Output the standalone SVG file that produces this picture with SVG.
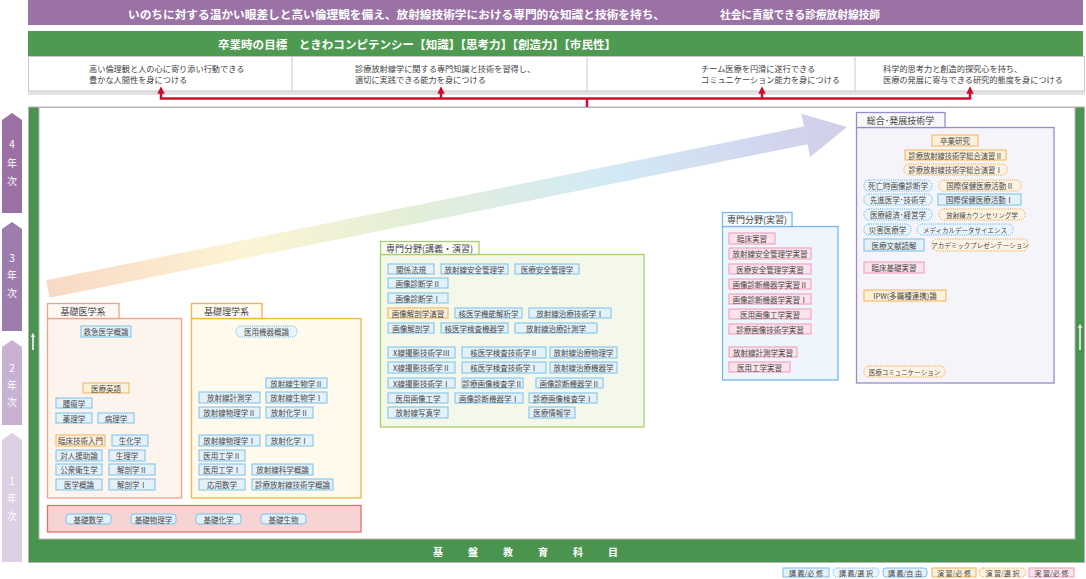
<svg xmlns="http://www.w3.org/2000/svg" width="1086" height="579" viewBox="0 0 1086 579">
<defs>
<style>
text{font-family:"Noto Sans CJK JP","Noto Sans CJK SC",sans-serif;}
.t{font-size:7.5px;fill:#4a4a4a;text-anchor:middle;dominant-baseline:central;}
.k{font-size:6.5px;fill:#4a4a4a;text-anchor:middle;dominant-baseline:central;}
.tab{font-size:9px;fill:#444;text-anchor:middle;dominant-baseline:central;}
.cell{font-size:8.2px;fill:#444;}
.yr{font-size:10px;fill:#fff;text-anchor:middle;dominant-baseline:central;}
.lr{fill:#e3f1fb;stroke:#8ccaec;stroke-width:1.2;}
.ls{fill:#eaf4fb;stroke:#4fb0e0;stroke-width:1;stroke-dasharray:1 1.2;}
.lf{fill:#e3f1fb;stroke:#7cc0e8;stroke-width:1;}
.er{fill:#fdf0da;stroke:#f4bd6c;stroke-width:1.2;}
.es{fill:#fdf3e2;stroke:#f0a02c;stroke-width:1;stroke-dasharray:1 1.2;}
.pr{fill:#fce2ea;stroke:#f0a8c0;stroke-width:1.2;}
.red{stroke:#c8102e;stroke-width:2.5;fill:none;}
.lg{font-size:7px;fill:#4a4a4a;text-anchor:middle;dominant-baseline:central;}
</style>
<linearGradient id="grad" gradientUnits="userSpaceOnUse" x1="48" y1="0" x2="847" y2="0">
<stop offset="0" stop-color="#f8d9c5"/>
<stop offset="0.25" stop-color="#fdf4d5"/>
<stop offset="0.45" stop-color="#e3efd7"/>
<stop offset="0.7" stop-color="#d3eaf6"/>
<stop offset="1" stop-color="#d1cde9"/>
</linearGradient>
<marker id="ah" viewBox="0 0 10 10" refX="5" refY="5" markerWidth="3" markerHeight="3" orient="auto">
<path d="M0,0 L10,5 L0,10 z" fill="#c8102e"/>
</marker>
<marker id="wh" viewBox="0 0 10 10" refX="5" refY="5" markerWidth="3" markerHeight="3" orient="auto">
<path d="M0,0 L10,5 L0,10 z" fill="#fff"/>
</marker>
</defs>

<rect width="1086" height="579" fill="#fff"/>

<!-- header -->
<g id="mission">
<rect x="28" y="0" width="1055" height="25" fill="#9b72a6"/>
<text x="128" y="13.5" font-size="11.5" font-weight="bold" fill="#fff" dominant-baseline="central" textLength="537" lengthAdjust="spacingAndGlyphs">いのちに対する温かい眼差しと高い倫理観を備え、放射線技術学における専門的な知識と技術を持ち、</text>
<text x="720" y="13.5" font-size="11.5" font-weight="bold" fill="#fff" dominant-baseline="central" textLength="160" lengthAdjust="spacingAndGlyphs">社会に貢献できる診療放射線技師</text>
</g>
<g id="competency">
<rect x="28" y="31" width="1055" height="25" fill="#4f9a51"/>
<text x="218" y="43.5" font-size="11.5" font-weight="bold" fill="#fff" dominant-baseline="central" textLength="398" lengthAdjust="spacingAndGlyphs">卒業時の目標　ときわコンピテンシー【知識】【思考力】【創造力】【市民性】</text>
</g>
<g id="goals">
<rect x="28" y="91" width="1057" height="4" fill="#e4e4e4"/>
<rect x="28.5" y="56.5" width="1056" height="34.5" fill="#fff" stroke="#c8c8c8"/>
<line x1="292" y1="57" x2="292" y2="91" stroke="#c8c8c8"/>
<line x1="587" y1="57" x2="587" y2="91" stroke="#c8c8c8"/>
<line x1="855" y1="57" x2="855" y2="91" stroke="#c8c8c8"/>
<g id="goal1"><text class="cell" x="89" y="72">高い倫理観と人の心に寄り添い行動できる</text><text class="cell" x="89" y="83">豊かな人間性を身につける</text></g>
<g id="goal2"><text class="cell" x="355" y="72">診療放射線学に関する専門知識と技術を習得し、</text><text class="cell" x="355" y="83">適切に実践できる能力を身につける</text></g>
<g id="goal3"><text class="cell" x="701" y="72">チーム医療を円滑に遂行できる</text><text class="cell" x="701" y="83">コミュニケーション能力を身につける</text></g>
<g id="goal4"><text class="cell" x="883" y="72">科学的思考力と創造的探究心を持ち、</text><text class="cell" x="883" y="83">医療の発展に寄与できる研究的態度を身につける</text></g>
</g>

<!-- main frame -->
<g id="frame">
<rect x="28.5" y="107" width="1056" height="455.5" fill="#4b9450" stroke="#b5b5b5"/>
<rect x="39" y="107.5" width="1036" height="431.5" fill="#fff" stroke="#b5b5b5"/>
<g font-size="10" font-weight="bold" fill="#fff" text-anchor="middle" dominant-baseline="central">
<text x="438" y="551">基</text><text x="473" y="551">盤</text><text x="508" y="551">教</text><text x="543" y="551">育</text><text x="578" y="551">科</text><text x="613" y="551">目</text>
</g>
<line x1="33" y1="350" x2="33" y2="335" stroke="#fff" stroke-width="1.5" marker-end="url(#wh)"/>
<line x1="1080" y1="350" x2="1080" y2="326" stroke="#fff" stroke-width="1.5" marker-end="url(#wh)"/>
</g>

<!-- year labels -->
<g id="year4"><polygon points="2,120 12,113 22,120 22,213 2,213" fill="#9b70a5"/><text class="yr" x="12" y="143">4</text><text class="yr" x="12" y="162">年</text><text class="yr" x="12" y="180">次</text></g>
<g id="year3"><polygon points="2,229 12,222 22,229 22,331 2,331" fill="#9d7dae"/><text class="yr" x="12" y="257">3</text><text class="yr" x="12" y="274">年</text><text class="yr" x="12" y="292">次</text></g>
<g id="year2"><polygon points="2,347 12,340 22,347 22,425 2,425" fill="#c8b1d2"/><text class="yr" x="12" y="367">2</text><text class="yr" x="12" y="384">年</text><text class="yr" x="12" y="401">次</text></g>
<g id="year1"><polygon points="2,440 12,433 22,440 22,562 2,562" fill="#ddd0e4"/><text class="yr" x="12" y="480">1</text><text class="yr" x="12" y="497">年</text><text class="yr" x="12" y="515">次</text></g>

<!-- progression arrow -->
<g id="progress">
<polygon points="46.2,280.2 804,126.6 801.4,113.8 847,127 810.2,157 807.6,144.2 49.8,297.8" fill="url(#grad)"/>
</g>

<!-- connectors -->
<g id="connectors">
<polyline class="red" points="161,90 161,98.5 970,98.5 970,90"/>
<line class="red" x1="441" y1="98.5" x2="441" y2="90"/>
<line class="red" x1="762" y1="98.5" x2="762" y2="90"/>
<line class="red" x1="587" y1="98" x2="587" y2="107"/>
<line class="red" x1="161" y1="92" x2="161" y2="90" marker-end="url(#ah)"/>
<line class="red" x1="441" y1="92" x2="441" y2="90" marker-end="url(#ah)"/>
<line class="red" x1="762" y1="92" x2="762" y2="90" marker-end="url(#ah)"/>
<line class="red" x1="970" y1="92" x2="970" y2="90" marker-end="url(#ah)"/>
</g>

<!-- 基礎医学系 -->
<g id="kiso-igaku">
<rect x="47.5" y="318.5" width="134" height="179.5" fill="#fdf4ee" stroke="#f0a286" stroke-width="1.3"/>
<rect x="47.5" y="303.5" width="71.5" height="15" fill="#fef8f4" stroke="#f0a286" stroke-width="1.3"/>
<text class="tab" x="83" y="311">基礎医学系</text>
<rect class="lr" x="81" y="326" width="50" height="11"/><text class="t" x="106" y="331.5">救急医学概論</text>
<rect class="er" x="83" y="383" width="46" height="10"/><text class="t" x="106" y="388">医療英語</text>
<rect class="lr" x="56" y="398" width="36" height="10"/><text class="t" x="74" y="403">腫瘍学</text>
<rect class="lr" x="56" y="413" width="36" height="10"/><text class="t" x="74" y="418">薬理学</text>
<rect class="lr" x="98" y="413" width="36" height="10"/><text class="t" x="116" y="418">病理学</text>
<rect class="er" x="56" y="435" width="49" height="11"/><text class="t" x="80.5" y="440.5">臨床技術入門</text>
<rect class="lr" x="112" y="435" width="36" height="11"/><text class="t" x="130" y="440.5">生化学</text>
<rect class="lr" x="56" y="450" width="46" height="11"/><text class="t" x="79" y="455.5">対人援助論</text>
<rect class="lr" x="109" y="450" width="36" height="11"/><text class="t" x="127" y="455.5">生理学</text>
<rect class="lr" x="56" y="464" width="46" height="11"/><text class="t" x="79" y="469.5">公衆衛生学</text>
<rect class="lr" x="109" y="464" width="46" height="11"/><text class="t" x="132" y="469.5">解剖学Ⅱ</text>
<rect class="lr" x="56" y="479" width="46" height="11"/><text class="t" x="79" y="484.5">医学概論</text>
<rect class="lr" x="109" y="479" width="46" height="11"/><text class="t" x="132" y="484.5">解剖学Ⅰ</text>
</g>

<!-- 基礎理学系 -->
<g id="kiso-rigaku">
<rect x="191.5" y="318.5" width="169.5" height="179.5" fill="#fffaec" stroke="#f5b445" stroke-width="1.3"/>
<rect x="191.5" y="303.5" width="70.5" height="15" fill="#fffbee" stroke="#f5b445" stroke-width="1.3"/>
<text class="tab" x="226.5" y="311">基礎理学系</text>
<rect class="ls" x="236" y="326" width="61" height="11" rx="5"/><text class="t" x="266.5" y="331.5">医用機器概論</text>
<rect class="lr" x="266" y="378" width="61" height="10"/><text class="t" x="296.5" y="383">放射線生物学Ⅱ</text>
<rect class="lr" x="199" y="392" width="61" height="11"/><text class="t" x="229.5" y="397.5">放射線計測学</text>
<rect class="lr" x="266" y="392" width="61" height="11"/><text class="t" x="296.5" y="397.5">放射線生物学Ⅰ</text>
<rect class="lr" x="199" y="407" width="61" height="11"/><text class="t" x="229.5" y="412.5">放射線物理学Ⅱ</text>
<rect class="lr" x="266" y="407" width="47" height="11"/><text class="t" x="289.5" y="412.5">放射化学Ⅱ</text>
<rect class="lr" x="199" y="435" width="61" height="11"/><text class="t" x="229.5" y="440.5">放射線物理学Ⅰ</text>
<rect class="lr" x="266" y="435" width="47" height="11"/><text class="t" x="289.5" y="440.5">放射化学Ⅰ</text>
<rect class="lr" x="199" y="450" width="46" height="11"/><text class="t" x="222" y="455.5">医用工学Ⅱ</text>
<rect class="lr" x="199" y="464" width="46" height="11"/><text class="t" x="222" y="469.5">医用工学Ⅰ</text>
<rect class="lr" x="252" y="464" width="61" height="11"/><text class="t" x="282.5" y="469.5">放射線科学概論</text>
<rect class="lr" x="199" y="479" width="46" height="11"/><text class="t" x="222" y="484.5">応用数学</text>
<rect class="lr" x="252" y="479" width="81" height="11"/><text class="t" x="292.5" y="484.5">診療放射線技術学概論</text>
</g>

<!-- 基盤 (基礎) -->
<g id="kiso-kiban">
<rect x="47.5" y="505.5" width="313.5" height="26.5" fill="#f7d4d4" stroke="#e86e6e" stroke-width="1.3"/>
<rect class="lf" x="66" y="514" width="45" height="10" rx="3"/><text class="t" x="88.5" y="519">基礎数学</text>
<rect class="lf" x="131" y="514" width="45" height="10" rx="3"/><text class="t" x="153.5" y="519">基礎物理学</text>
<rect class="lf" x="196" y="514" width="45" height="10" rx="3"/><text class="t" x="218.5" y="519">基礎化学</text>
<rect class="lf" x="261" y="514" width="45" height="10" rx="3"/><text class="t" x="283.5" y="519">基礎生物</text>
</g>

<!-- 専門分野(講義・演習) -->
<g id="senmon-kougi">
<rect x="380.5" y="254.5" width="263.5" height="172.5" fill="#f3f8ea" stroke="#a9d062" stroke-width="1.3"/>
<rect x="380.5" y="241.5" width="98.5" height="13" fill="#fafcf5" stroke="#a9d062" stroke-width="1.3"/>
<text class="tab" x="429.5" y="248">専門分野(講義・演習)</text>
<rect class="lr" x="388" y="264" width="46" height="10"/><text class="t" x="411" y="269">関係法規</text>
<rect class="lr" x="441" y="264" width="67" height="10"/><text class="t" x="474.5" y="269">放射線安全管理学</text>
<rect class="lr" x="515" y="264" width="64" height="10"/><text class="t" x="547" y="269">医療安全管理学</text>
<rect class="lr" x="388" y="278" width="60" height="10"/><text class="t" x="418" y="283">画像診断学Ⅱ</text>
<rect class="lr" x="388" y="293" width="60" height="10"/><text class="t" x="418" y="298">画像診断学Ⅰ</text>
<rect class="er" x="388" y="308" width="60" height="10"/><text class="t" x="418" y="313">画像解剖学演習</text>
<rect class="lr" x="455" y="308" width="67" height="10"/><text class="t" x="488.5" y="313">核医学機能解析学</text>
<rect class="lr" x="529" y="308" width="82" height="10"/><text class="t" x="570" y="313">放射線治療技術学Ⅰ</text>
<rect class="lr" x="388" y="323" width="46" height="10"/><text class="t" x="411" y="328">画像解剖学</text>
<rect class="lr" x="441" y="323" width="67" height="10"/><text class="t" x="474.5" y="328">核医学検査機器学</text>
<rect class="lr" x="515" y="323" width="82" height="10"/><text class="t" x="556" y="328">放射線治療計測学</text>
<rect class="lr" x="388" y="347" width="67" height="11"/><text class="t" x="421.5" y="352.5">X線撮影技術学Ⅲ</text>
<rect class="lr" x="462" y="347" width="84" height="11"/><text class="t" x="504" y="352.5">核医学検査技術学Ⅱ</text>
<rect class="lr" x="550" y="347" width="67" height="11"/><text class="t" x="583.5" y="352.5">放射線治療物理学</text>
<rect class="lr" x="388" y="362" width="67" height="11"/><text class="t" x="421.5" y="367.5">X線撮影技術学Ⅱ</text>
<rect class="lr" x="462" y="362" width="84" height="11"/><text class="t" x="504" y="367.5">核医学検査技術学Ⅰ</text>
<rect class="lr" x="550" y="362" width="67" height="11"/><text class="t" x="583.5" y="367.5">放射線治療機器学</text>
<rect class="lr" x="388" y="378" width="67" height="10"/><text class="t" x="421.5" y="383">X線撮影技術学Ⅰ</text>
<rect class="lr" x="462" y="378" width="61" height="10"/><text class="t" x="492.5" y="383">診療画像検査学Ⅱ</text>
<rect class="lr" x="536" y="378" width="67" height="10"/><text class="t" x="569.5" y="383">画像診断機器学Ⅱ</text>
<rect class="lr" x="388" y="393" width="60" height="10"/><text class="t" x="418" y="398">医用画像工学</text>
<rect class="lr" x="455" y="393" width="68" height="10"/><text class="t" x="489" y="398">画像診断機器学Ⅰ</text>
<rect class="lr" x="529" y="393" width="68" height="10"/><text class="t" x="563" y="398">診療画像検査学Ⅰ</text>
<rect class="lr" x="388" y="407" width="60" height="11"/><text class="t" x="418" y="412.5">放射線写真学</text>
<rect class="lr" x="529" y="407" width="46" height="11"/><text class="t" x="552" y="412.5">医療情報学</text>
</g>

<!-- 専門分野(実習) -->
<g id="senmon-jisshu">
<rect x="722.5" y="226.5" width="115.5" height="153.5" fill="#eef5fc" stroke="#79b9e6" stroke-width="1.3"/>
<rect x="722.5" y="212.5" width="69.5" height="14" fill="#f6fafe" stroke="#79b9e6" stroke-width="1.3"/>
<text class="tab" x="757" y="219.5">専門分野(実習)</text>
<rect class="pr" x="729" y="233" width="46" height="11"/><text class="t" x="752" y="238.5">臨床実習</text>
<rect class="pr" x="729" y="248" width="82" height="11"/><text class="t" x="770" y="253.5">放射線安全管理学実習</text>
<rect class="pr" x="729" y="264" width="82" height="10"/><text class="t" x="770" y="269">医療安全管理学実習</text>
<rect class="pr" x="729" y="279" width="82" height="10"/><text class="t" x="770" y="284">画像診断機器学実習Ⅱ</text>
<rect class="pr" x="729" y="294" width="82" height="10"/><text class="t" x="770" y="299">画像診断機器学実習Ⅰ</text>
<rect class="pr" x="729" y="309" width="82" height="10"/><text class="t" x="770" y="314">医用画像工学実習</text>
<rect class="pr" x="729" y="324" width="82" height="10"/><text class="t" x="770" y="329">診療画像技術学実習</text>
<rect class="pr" x="729" y="347" width="68" height="10"/><text class="t" x="763" y="352">放射線計測学実習</text>
<rect class="pr" x="729" y="362" width="61" height="10"/><text class="t" x="759.5" y="367">医用工学実習</text>
</g>

<!-- 総合・発展技術学 -->
<g id="sougou">
<rect x="856.5" y="127.5" width="197.5" height="255.5" fill="#f5f4fa" stroke="#9a8ccb" stroke-width="1.3"/>
<rect x="856.5" y="112.5" width="88.5" height="15" fill="#f9f8fc" stroke="#9a8ccb" stroke-width="1.3"/>
<text class="tab" x="900.5" y="120">総合･発展技術学</text>
<rect class="er" x="932" y="135" width="46" height="11"/><text class="t" x="955" y="140.5">卒業研究</text>
<rect class="er" x="905" y="150" width="101" height="10"/><text class="t" x="955.5" y="155" textLength="94" lengthAdjust="spacingAndGlyphs">診療放射線技術学総合演習Ⅱ</text>
<rect class="es" x="904" y="164" width="103" height="11" rx="5"/><text class="t" x="955.5" y="169.5" textLength="94" lengthAdjust="spacingAndGlyphs">診療放射線技術学総合演習Ⅰ</text>
<rect class="ls" x="864" y="180" width="68" height="11" rx="5"/><text class="t" x="898" y="185.5">死亡時画像診断学</text>
<rect class="es" x="939" y="180" width="82" height="11" rx="5"/><text class="t" x="980" y="185.5">国際保健医療活動Ⅱ</text>
<rect class="ls" x="864" y="194" width="68" height="11" rx="5"/><text class="t" x="898" y="199.5">先進医学･技術学</text>
<rect class="lr" x="938" y="194" width="83" height="11"/><text class="t" x="979.5" y="199.5">国際保健医療活動Ⅰ</text>
<rect class="ls" x="864" y="209" width="68" height="11" rx="5"/><text class="t" x="898" y="214.5">医療経済･経営学</text>
<rect class="es" x="939" y="209" width="86" height="11" rx="5"/><text class="k" x="982" y="214.5">放射線カウンセリング学</text>
<rect class="ls" x="864" y="224" width="47" height="11" rx="5"/><text class="t" x="887.5" y="229.5">災害医療学</text>
<rect class="ls" x="917" y="224" width="96" height="11" rx="5"/><text class="k" x="965" y="229.5">メディカルデータサイエンス</text>
<rect class="lr" x="864" y="239" width="60" height="12"/><text class="t" x="894" y="245">医療文献読解</text>
<rect class="es" x="932" y="239" width="96" height="12" rx="5"/><text class="k" x="980" y="245">アカデミックプレゼンテーション</text>
<rect class="pr" x="864" y="262" width="60" height="11"/><text class="t" x="894" y="267.5">臨床基礎実習</text>
<rect class="er" x="864" y="290" width="82" height="11"/><text class="t" x="905" y="295.5">IPW(多職種連携)論</text>
<rect class="es" x="864" y="366" width="81" height="11" rx="5"/><text class="k" x="904.5" y="371.5">医療コミュニケーション</text>
</g>

<!-- legend -->
<g id="legend">
<rect class="lr" x="783" y="568" width="46" height="9"/><text class="lg" x="806" y="572.5">講 義/必 修</text>
<rect class="ls" x="833" y="568" width="46" height="9" rx="4"/><text class="lg" x="856" y="572.5">講 義/選 択</text>
<rect class="lf" x="883" y="568" width="44" height="9" rx="3"/><text class="lg" x="905" y="572.5">講 義/自 由</text>
<rect class="er" x="932" y="568" width="44" height="9"/><text class="lg" x="954" y="572.5">演 習/必 修</text>
<rect class="es" x="979" y="568" width="47" height="9" rx="4"/><text class="lg" x="1002.5" y="572.5">演 習/選 択</text>
<rect class="pr" x="1029" y="568" width="45" height="9"/><text class="lg" x="1051.5" y="572.5">実 習/必 修</text>
</g>
</svg>
